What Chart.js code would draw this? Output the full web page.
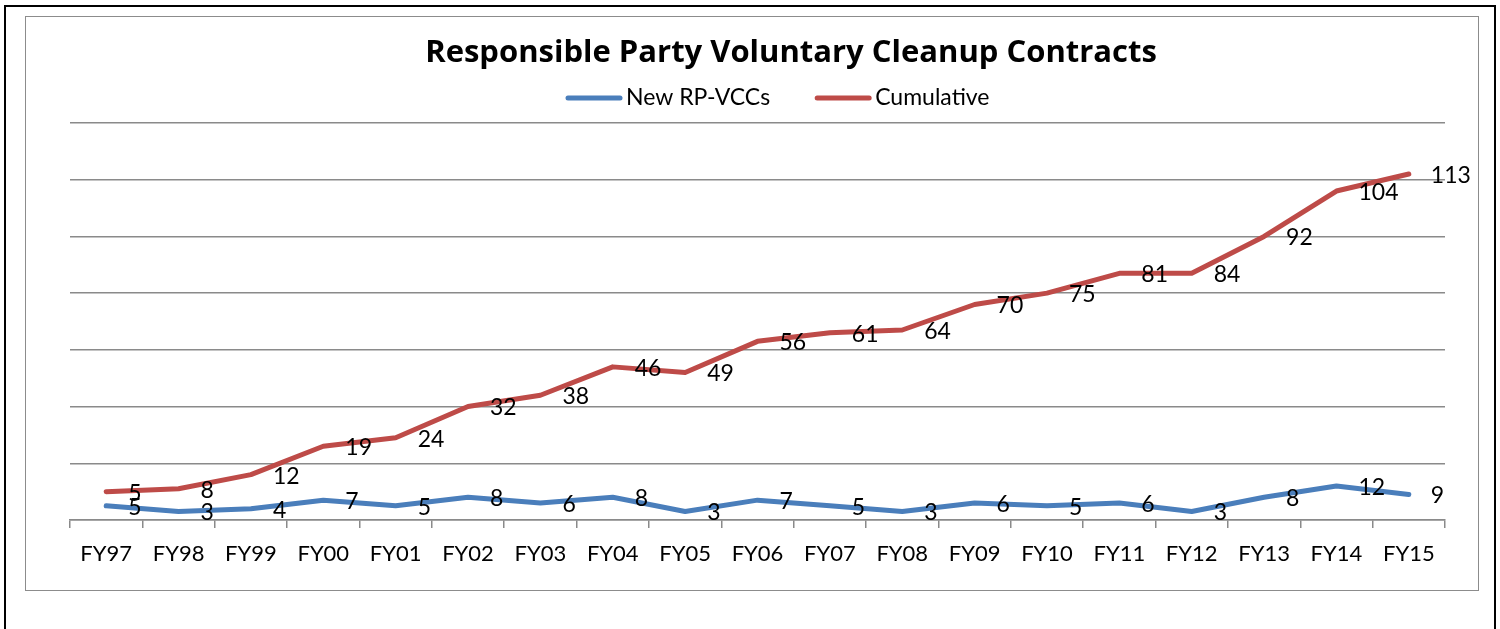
<!DOCTYPE html>
<html>
<head>
<meta charset="utf-8">
<title>Responsible Party Voluntary Cleanup Contracts</title>
<script src="https://cdn.jsdelivr.net/npm/chart.js@4.4.0/dist/chart.umd.min.js"></script>
<style>
  html, body { margin: 0; padding: 0; background: #fff; width: 1500px; height: 629px; overflow: hidden; }
  .page-frame { position: absolute; left: 4px; top: 5px; width: 1492px; height: 700px; border: 2px solid #000; box-sizing: border-box; }
  .chart-box { position: absolute; left: 25px; top: 16px; width: 1454px; height: 575px; border: 1px solid #8c8c8c; box-sizing: border-box; }
  .chart-box canvas { display: block; }
</style>
</head>
<body>
<div class="page-frame"></div>
<div class="chart-box">
  <canvas id="rp-vcc-chart" width="1452" height="573"></canvas>
</div>
<script>
// chart data
const chartTitle = 'Responsible Party Voluntary Cleanup Contracts';
const fiscalYears = ['FY97', 'FY98', 'FY99', 'FY00', 'FY01', 'FY02', 'FY03', 'FY04', 'FY05', 'FY06',
                     'FY07', 'FY08', 'FY09', 'FY10', 'FY11', 'FY12', 'FY13', 'FY14', 'FY15'];
const newContracts = [5, 3, 4, 7, 5, 8, 6, 8, 3, 7, 5, 3, 6, 5, 6, 3, 8, 12, 9];
const cumulativeContracts = [5, 8, 12, 19, 24, 32, 38, 46, 49, 56, 61, 64, 70, 75, 81, 84, 92, 104, 113];
const seriesNames = ['New RP-VCCs', 'Cumulative'];
const yAxisMax = 140;
const yAxisStep = 20;

const FONT = 'Lato';
const TITLE_FONT = '"Open Sans"';
const GRID_GRAY = '#8a8a8a';

Chart.defaults.font.family = FONT;
Chart.defaults.color = '#000';

// value labels to the right of each point (Excel style)
const pointLabels = {
    id: 'pointLabels',
    afterDatasetsDraw(chart) {
        const ctx = chart.ctx;
        ctx.save();
        ctx.font = `23px ${FONT}`;
        ctx.fillStyle = '#000';
        ctx.textAlign = 'left';
        ctx.textBaseline = 'middle';
        chart.data.datasets.forEach((ds, i) => {
            const meta = chart.getDatasetMeta(i);
            meta.data.forEach((pt, j) => {
                ctx.fillText(String(ds.data[j]), pt.x + 22, pt.y + 1.5);
            });
        });
        ctx.restore();
    }
};

// title + legend, placed where the original has them
const headerPlugin = {
    id: 'header',
    afterDraw(chart) {
        const ctx = chart.ctx;
        ctx.save();
        ctx.fillStyle = '#000';
        ctx.textBaseline = 'middle';

        ctx.font = `bold 31px ${TITLE_FONT}`;
        ctx.textAlign = 'center';
        ctx.fillText(chartTitle, 765, 36);

        ctx.font = `23px ${FONT}`;
        ctx.textAlign = 'left';
        let x = 540;
        const y = 81;
        chart.data.datasets.forEach(ds => {
            ctx.strokeStyle = ds.borderColor;
            ctx.lineWidth = 5;
            ctx.lineCap = 'round';
            ctx.beginPath();
            ctx.moveTo(x + 2, y);
            ctx.lineTo(x + 54, y);
            ctx.stroke();
            ctx.fillText(ds.label, x + 60, y);
            x += 60 + ctx.measureText(ds.label).width + 45;
        });
        ctx.restore();
    }
};

new Chart(document.getElementById('rp-vcc-chart'), {
    type: 'line',
    data: {
        labels: fiscalYears,
        datasets: [{
            label: seriesNames[0],
            data: newContracts,
            borderColor: '#4a7ebb',
            backgroundColor: '#4a7ebb',
            borderWidth: 5,
            borderCapStyle: 'round',
            borderJoinStyle: 'round',
            pointRadius: 0,
            tension: 0,
            fill: false
        }, {
            label: seriesNames[1],
            data: cumulativeContracts,
            borderColor: '#be4b48',
            backgroundColor: '#be4b48',
            borderWidth: 5,
            borderCapStyle: 'round',
            borderJoinStyle: 'round',
            pointRadius: 0,
            tension: 0,
            fill: false
        }]
    },
    options: {
        responsive: false,
        animation: false,
        layout: {
            padding: { left: 44, right: 33, top: 106, bottom: 9.6 }
        },
        plugins: {
            legend: { display: false },
            title: { display: false },
            tooltip: { enabled: false }
        },
        scales: {
            x: {
                offset: true,
                grid: {
                    offset: true,
                    drawOnChartArea: false,
                    color: GRID_GRAY,
                    lineWidth: 1.5,
                    tickLength: 8
                },
                border: { color: GRID_GRAY, width: 1.5 },
                ticks: {
                    color: '#000',
                    font: { size: 22 },
                    padding: 13,
                    maxRotation: 0,
                    autoSkip: false
                }
            },
            y: {
                stacked: true,
                min: 0,
                max: yAxisMax,
                ticks: { display: false, stepSize: yAxisStep },
                grid: { color: GRID_GRAY, lineWidth: 1.5, drawTicks: false },
                border: { display: false }
            }
        }
    },
    plugins: [pointLabels, headerPlugin]
});
</script>
</body>
</html>
